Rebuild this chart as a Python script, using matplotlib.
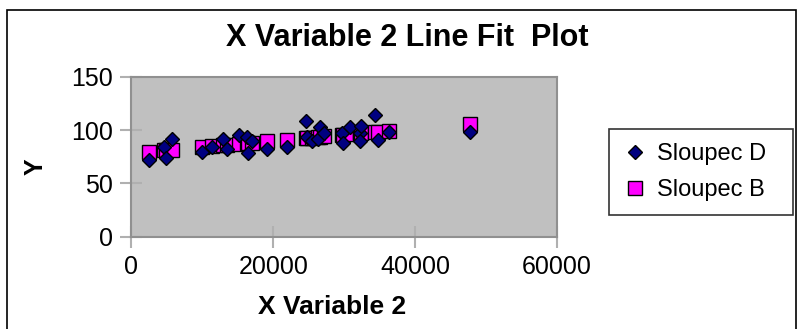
import matplotlib.pyplot as plt
from matplotlib.patches import Rectangle

plt.rcParams['font.family'] = ['Liberation Sans', 'DejaVu Sans']

# X Variable 2 values
x_var2 = [2510, 4650, 4850, 5780, 9920, 11330, 12880, 13530, 15130, 16260,
          16440, 17010, 19160, 21900, 24570, 24760, 25420, 26350, 26540, 27110,
          29640, 29830, 30860, 32270, 32270, 32370, 34290, 34760, 36360, 47680]
# Sloupec D = observed Y
sloupec_d = [71.9, 83.8, 73.8, 91.3, 79.4, 83.8, 91.3, 81.9, 95.0, 93.2,
             78.2, 90.0, 81.9, 84.0, 108.8, 93.8, 89.4, 91.3, 103.1, 97.5,
             96.9, 87.5, 103.1, 96.9, 89.4, 103.8, 114.4, 90.7, 98.2, 97.9]
# Sloupec B = predicted Y
sloupec_b = [79.7, 80.9, 81.0, 81.6, 84.0, 84.8, 85.7, 86.1, 87.0, 87.7,
             87.8, 88.1, 89.4, 91.0, 92.5, 92.6, 93.0, 93.5, 93.6, 94.0,
             95.5, 95.6, 96.2, 97.0, 97.0, 97.0, 98.2, 98.4, 99.4, 105.9]

x_ticks = [0, 20000, 40000, 60000]
y_ticks = [0, 50, 100, 150]

W, H = 798, 329
fig = plt.figure(figsize=(W / 100, H / 100), dpi=100)
ax = fig.add_axes([131.3 / W, 1 - 236.7 / H, (557 - 131.3) / W, (236.7 - 76.7) / H])

# outer chart border
fig.patches.append(Rectangle((7 / W, -0.1), (796 - 7) / W, 1.1 - 10 / H,
                             transform=fig.transFigure, fill=False,
                             edgecolor='black', linewidth=1.2))

ax.set_facecolor('#C0C0C0')
for s in ax.spines.values():
    s.set_color('#909090')
    s.set_linewidth(1.5)

pb, = ax.plot(x_var2, sloupec_b, linestyle='none', marker='s', markersize=10.5,
              markerfacecolor='#FF00FF', markeredgecolor='black',
              markeredgewidth=1.0, zorder=3, label='Sloupec B')
pd, = ax.plot(x_var2, sloupec_d, linestyle='none', marker='D', markersize=7.5,
              markerfacecolor='#000080', markeredgecolor='black',
              markeredgewidth=1.0, zorder=4, label='Sloupec D')

ax.set_xlim(0, 60000)
ax.set_ylim(0, 150)
ax.set_xticks(x_ticks)
ax.set_yticks(y_ticks)
ax.tick_params(direction='inout', length=16, width=1.5, color='#B0B0B0',
               labelsize=18, pad=5)

fig.text(407 / W, 1 - 38 / H, 'X Variable 2 Line Fit  Plot', fontsize=22,
         fontweight='bold', ha='center', va='center')
fig.text(332 / W, 1 - 307 / H, 'X Variable 2', fontsize=19,
         fontweight='bold', ha='center', va='center')
fig.text(36 / W, 1 - 167 / H, 'Y', fontsize=18, fontweight='bold',
         rotation=90, ha='center', va='center')

leg = fig.legend([pd, pb], ['Sloupec D', 'Sloupec B'], loc='upper left',
                 bbox_to_anchor=(609 / W, 1 - 216 / H, 184 / W, 87 / H),
                 mode='expand', fontsize=17,
                 frameon=True, fancybox=False, edgecolor='black',
                 handlelength=1.0, handletextpad=0.45, borderpad=0.6,
                 labelspacing=0.6, borderaxespad=0)
leg.get_frame().set_linewidth(1.2)

fig.savefig('out.png', dpi=100)
